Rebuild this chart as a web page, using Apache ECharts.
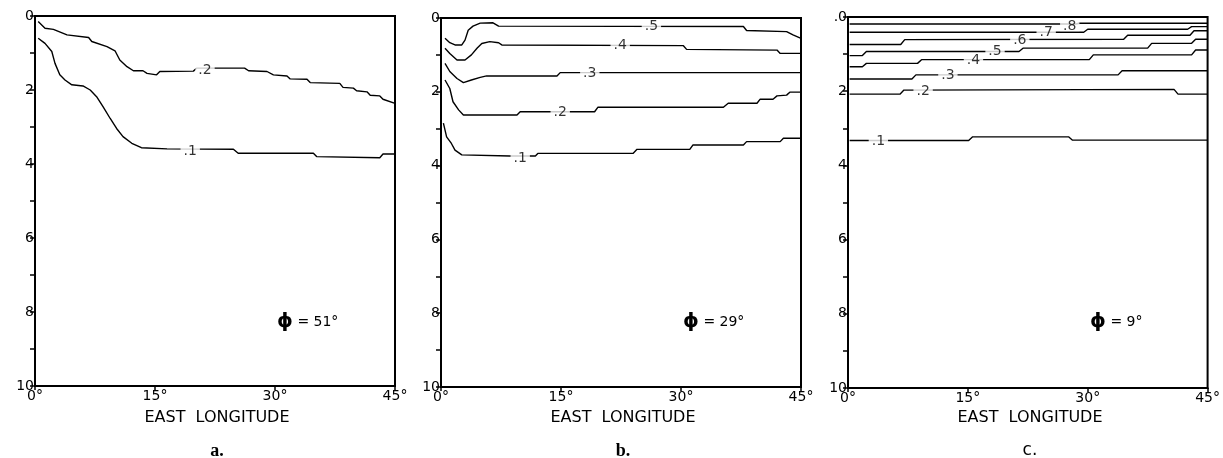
<!DOCTYPE html>
<html>
<head>
<meta charset="utf-8">
<script src="https://cdn.jsdelivr.net/npm/echarts@6.0.0/dist/echarts.min.js"></script>
<style>
  html, body { margin: 0; padding: 0; background: #fff; }
  #chart { width: 1223px; height: 458px; }
</style>
</head>
<body>
<div id="chart"></div>
<script>
// depth ticks and longitude ticks
var depthTicks = [0, 2, 4, 6, 8, 10];
var lonTicks = [0, 15, 30, 45];
var panelNames = ['a.', 'b.', 'c.'];
var latitudes = ['51°', '29°', '9°'];

// panel a, contours [longitude, depth]
var a2 = [[0.4,0.15],[1.25,0.33],[2.3,0.36],[4.0,0.51],[6.7,0.58],[7.1,0.69],[9.0,0.83],[10.0,0.94],[10.6,1.19],[11.5,1.37],[12.3,1.48],[13.5,1.48],[14.0,1.55],[15.2,1.59],[15.6,1.50],[19.8,1.49],[20.2,1.41],[26.2,1.41],[26.7,1.48],[29.0,1.50],[29.8,1.59],[31.5,1.62],[31.9,1.70],[34.0,1.71],[34.4,1.80],[38.1,1.82],[38.5,1.93],[39.8,1.95],[40.2,2.02],[41.5,2.05],[41.9,2.14],[43.1,2.16],[43.5,2.25],[45,2.36]];
var a1 = [[0.4,0.60],[1.25,0.74],[2.1,0.96],[2.5,1.28],[3.1,1.59],[3.75,1.73],[4.6,1.86],[6.0,1.89],[6.9,2.0],[7.7,2.18],[8.5,2.45],[9.4,2.77],[10.2,3.04],[11.0,3.26],[12.1,3.44],[13.3,3.56],[16.5,3.59],[24.8,3.60],[25.4,3.71],[34.8,3.71],[35.2,3.80],[43.1,3.83],[43.5,3.73],[45,3.73]];
var aLabels = [[21.25,1.46,'.2'],[19.4,3.67,'.1']];

// panel b
var b5 = [[0.5,0.55],[1.1,0.67],[1.75,0.73],[2.6,0.73],[3.0,0.60],[3.4,0.33],[4.0,0.22],[4.9,0.14],[6.5,0.13],[7.2,0.22],[37.8,0.23],[38.2,0.34],[43.2,0.37],[44.0,0.46],[45,0.55]];
var b4 = [[0.5,0.82],[1.1,0.96],[2.0,1.14],[3.0,1.14],[3.8,1.0],[4.5,0.82],[5.1,0.69],[6.1,0.64],[7.2,0.67],[7.6,0.73],[30.3,0.75],[30.7,0.85],[42.0,0.87],[42.4,0.96],[45,0.96]];
var b3 = [[0.5,1.23],[1.1,1.45],[2.0,1.64],[2.8,1.75],[3.8,1.68],[4.9,1.61],[5.7,1.57],[14.5,1.57],[14.9,1.48],[45,1.48]];
var b2 = [[0.5,1.68],[1.1,1.91],[1.5,2.27],[2.2,2.49],[2.8,2.63],[9.5,2.63],[9.9,2.54],[19.2,2.54],[19.6,2.42],[35.3,2.42],[35.9,2.31],[39.5,2.31],[39.9,2.20],[41.5,2.20],[42.0,2.11],[43.2,2.09],[43.6,2.01],[45,2.01]];
var b1 = [[0.3,2.85],[0.7,3.22],[1.3,3.40],[1.75,3.58],[2.6,3.71],[8.6,3.74],[11.8,3.74],[12.1,3.67],[24.0,3.67],[24.5,3.56],[31.1,3.56],[31.5,3.44],[37.8,3.44],[38.2,3.35],[42.4,3.35],[42.8,3.26],[45,3.26]];
var bLabels = [[26.3,0.23,'.5'],[22.4,0.75,'.4'],[18.6,1.50,'.3'],[14.9,2.57,'.2'],[9.9,3.80,'.1']];

// panel c
var c8 = [[0.2,0.19],[28.5,0.19],[29,0.17],[45,0.17]];
var c7 = [[0.2,0.41],[29.5,0.41],[30,0.33],[42.5,0.33],[43,0.26],[45,0.26]];
var c6 = [[0.2,0.74],[6.6,0.74],[7.1,0.61],[34.5,0.60],[35,0.49],[42.8,0.49],[43.3,0.37],[45,0.37]];
var c5 = [[0.2,1.04],[1.8,1.04],[2.3,0.93],[21.4,0.93],[21.9,0.84],[37.5,0.84],[38,0.71],[43,0.71],[43.5,0.60],[45,0.60]];
var c4 = [[0.2,1.34],[1.8,1.34],[2.3,1.25],[8.7,1.25],[9.2,1.15],[30.2,1.15],[30.7,1.02],[43,1.02],[43.5,0.89],[45,0.89]];
var c3 = [[0.2,1.67],[8.0,1.67],[8.5,1.56],[33.8,1.56],[34.3,1.45],[45,1.45]];
var c2 = [[0.2,2.08],[6.5,2.08],[7.0,1.97],[40.8,1.95],[41.3,2.08],[45,2.08]];
var c1 = [[0.2,3.33],[15.1,3.33],[15.6,3.23],[27.6,3.23],[28.1,3.32],[45,3.32]];
var cLabels = [[27.75,0.26,'.8'],[24.8,0.41,'.7'],[21.5,0.62,'.6'],[18.4,0.93,'.5'],[15.7,1.16,'.4'],[12.5,1.56,'.3'],[9.4,2.01,'.2'],[3.8,3.36,'.1']];

var panelLines = [[a2, a1], [b5, b4, b3, b2, b1], [c8, c7, c6, c5, c4, c3, c2, c1]];
var panelLabels = [aLabels, bLabels, cLabels];
var zeroText = ['0', '0', '.0'];

var FONT = '"DejaVu Sans", sans-serif';
var grids = [
    { left: 35, top: 16, width: 360, height: 370 },
    { left: 441, top: 18, width: 360, height: 369 },
    { left: 848, top: 17, width: 360, height: 371 }
];

var chart = echarts.init(document.getElementById('chart'), null, { renderer: 'canvas' });

var option = {
    animation: false,
    backgroundColor: '#fff',
    grid: [],
    xAxis: [],
    yAxis: [],
    series: [],
    graphic: []
};

grids.forEach(function (g, i) {
    option.grid.push({
        left: g.left, top: g.top, width: g.width, height: g.height,
        show: true, borderColor: '#000', borderWidth: 2, containLabel: false
    });
    option.xAxis.push({
        type: 'value', gridIndex: i, position: 'bottom',
        min: lonTicks[0], max: lonTicks[lonTicks.length - 1], interval: 15,
        axisLine: { show: true, onZero: false, lineStyle: { color: '#000', width: 2 } },
        axisTick: { show: true, length: 4, lineStyle: { color: '#000', width: 1.5 } },
        splitLine: { show: false },
        axisLabel: {
            color: '#000', fontFamily: FONT, fontSize: 14, margin: 3,
            formatter: function (v) { return v + '°'; }
        }
    });
    option.yAxis.push({
        type: 'value', gridIndex: i, inverse: true, position: 'left',
        min: depthTicks[0], max: depthTicks[depthTicks.length - 1], interval: 1,
        axisLine: { show: true, onZero: false, lineStyle: { color: '#000', width: 2 } },
        axisTick: { show: true, length: 5, lineStyle: { color: '#000', width: 1.5 } },
        splitLine: { show: false },
        axisLabel: {
            color: '#000', fontFamily: FONT, fontSize: 14, margin: 1,
            formatter: function (v) {
                if (depthTicks.indexOf(v) < 0) return '';
                return v === 0 ? zeroText[i] : String(v);
            }
        }
    });
    panelLines[i].forEach(function (line) {
        option.series.push({
            type: 'line', xAxisIndex: i, yAxisIndex: i, data: line,
            symbol: 'none', z: 2, silent: true,
            lineStyle: { color: '#000', width: 1.4 }
        });
    });
    option.series.push({
        type: 'scatter', xAxisIndex: i, yAxisIndex: i, data: panelLabels[i],
        symbolSize: 1, z: 5, silent: true,
        itemStyle: { color: 'rgba(0,0,0,0)' },
        label: {
            show: true, position: 'inside', color: '#000', fontFamily: FONT, fontSize: 14,
            backgroundColor: '#fff', padding: [0, 3], lineHeight: 9,
            formatter: function (p) { return p.value[2]; }
        }
    });

    var cx = g.left + 182;
    option.graphic.push({
        type: 'text', x: cx, y: 418,
        style: { text: 'EAST  LONGITUDE', font: '16px ' + FONT, fill: '#000', align: 'center', verticalAlign: 'middle' }
    });
    option.graphic.push({
        type: 'text', x: cx, y: 451,
        style: {
            text: panelNames[i],
            font: i === 2 ? '17px ' + FONT : 'bold 18px "Liberation Serif", serif',
            fill: '#000', align: 'center', verticalAlign: 'middle'
        }
    });
    option.graphic.push({
        type: 'text', x: g.left + 242, y: 322,
        style: {
            text: '{p|ϕ} = ' + latitudes[i],
            fill: '#000', align: 'left', verticalAlign: 'middle',
            font: '14px ' + FONT,
            rich: { p: { font: 'bold 20px ' + FONT, fill: '#000' } }
        }
    });
});

chart.setOption(option);
</script>
</body>
</html>
